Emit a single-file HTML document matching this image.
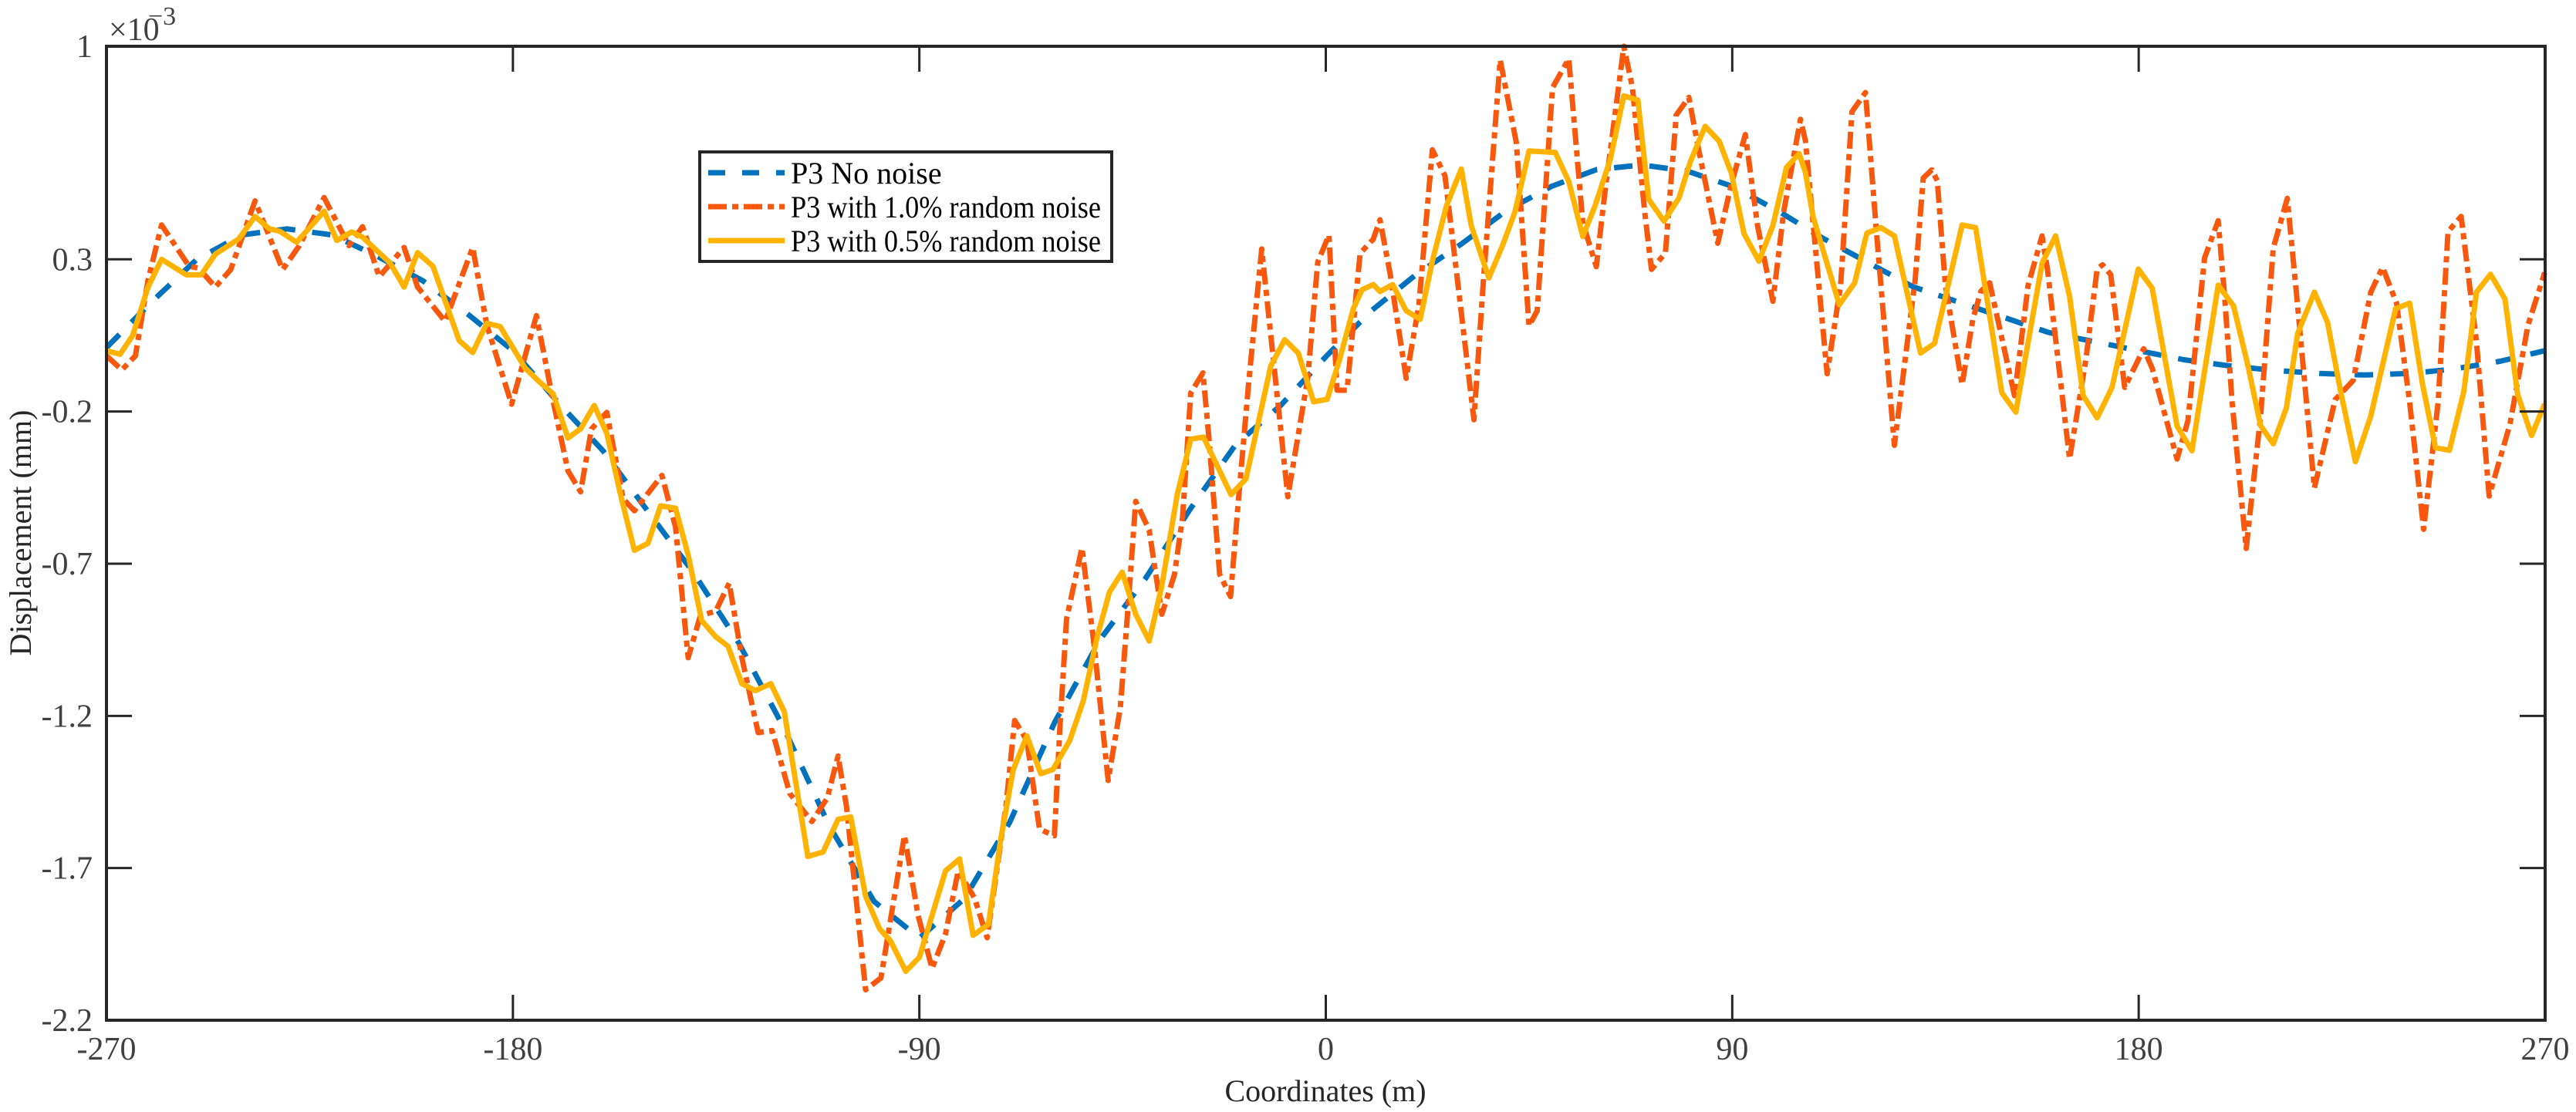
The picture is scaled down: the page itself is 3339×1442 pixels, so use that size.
<!DOCTYPE html>
<html><head><meta charset="utf-8"><style>
html,body{margin:0;padding:0;background:#fff;}
svg{display:block;font-family:"Liberation Serif",serif;}
</style></head><body>
<svg id="chart" width="3339" height="1442" viewBox="0 0 3339 1442" xmlns="http://www.w3.org/2000/svg">
<rect x="0" y="0" width="3339" height="1442" fill="#fff"/>
<g id="series"></g>
<g id="axes"></g>
</svg>
<script>
const xTicks=[-270,-180,-90,0,90,180,270];
const xTickLabels=["-270","-180","-90","0","90","180","270"];
const yTicks=[1,0.3,-0.2,-0.7,-1.2,-1.7,-2.2];
const yTickLabels=["1","0.3","-0.2","-0.7","-1.2","-1.7","-2.2"];
const xNoNoise=[-270,-260,-250,-240,-230,-220,-210,-200,-190,-180,-170,-160,-150,-140,-130,-120,-110,-100,-90,-80,-70,-60,-50,-40,-30,-20,-10,0,10,20,30,40,50,60,70,80,90,100,110,120,130,140,150,160,170,180,190,200,210,220,230,240,250,260,270];
const yNoNoise=[0.01,0.16,0.3,0.38,0.40,0.38,0.31,0.23,0.12,0.0,-0.17,-0.33,-0.53,-0.73,-0.96,-1.24,-1.56,-1.81,-1.93,-1.8,-1.55,-1.22,-0.95,-0.75,-0.52,-0.31,-0.18,-0.02,0.13,0.25,0.35,0.46,0.54,0.595,0.61,0.59,0.54,0.46,0.37,0.29,0.21,0.16,0.11,0.06,0.03,0.0,-0.03,-0.05,-0.065,-0.075,-0.08,-0.075,-0.06,-0.035,0.0];
const x1pct=[-270,-266.6,-263.6,-260.8,-257.8,-251.7,-249.6,-245.9,-242.5,-237.1,-231,-227.3,-221.8,-216.3,-213.3,-209.6,-204.1,-201.1,-195,-188.9,-185.8,-180.3,-174.8,-171.1,-167.8,-165,-162.6,-159.2,-155.6,-153.1,-147,-144,-141.2,-138.5,-135.1,-132.1,-129.3,-125.7,-122.6,-118.7,-113.8,-110.4,-108,-106.1,-101.9,-98.5,-93.3,-90.3,-87.2,-84.2,-81.4,-77.8,-75,-70.8,-68.9,-66.2,-63.4,-60.1,-58.9,-57.4,-54,-51.3,-48.2,-45.5,-43.9,-42.1,-39.1,-36.3,-33.5,-31.7,-29.9,-27.2,-25.9,-23.5,-21.1,-19.5,-17.1,-14.2,-8.4,-4.0,-1.8,0.7,2.5,4.7,7.6,10.5,12,14.2,17.8,20.6,23.6,26.4,28.8,32.8,34.9,38.6,42.2,45,46.8,50.2,53.8,56.9,59.9,61.8,66,67.9,70.6,72.1,75.2,77.6,80.4,82.5,86.8,89.8,92.9,95.6,99,101.4,105.1,106.2,111,114,116.5,119.5,122,125.9,130.5,132.3,134.2,135.4,137.2,140.9,143.3,145.1,147,152.5,155.5,158.6,159.8,164.7,168.3,170.8,172,173.8,176.9,181.1,183,188.5,190.9,194.6,197.6,199,200.7,203.8,207,209.8,212.9,214.9,218.9,223.5,227.5,231.4,234,237.1,240,243.1,246.3,248.5,251.4,254.8,257.6,262.2,266.2,269.9];
const y1pct=[-0.017,-0.063,-0.017,0.232,0.413,0.277,0.271,0.209,0.266,0.492,0.266,0.345,0.503,0.345,0.407,0.243,0.339,0.209,0.096,0.339,0.085,-0.176,0.115,-0.165,-0.395,-0.464,-0.257,-0.203,-0.487,-0.526,-0.41,-0.579,-1.009,-0.871,-0.856,-0.764,-1.009,-1.255,-1.248,-1.455,-1.547,-1.47,-1.332,-1.501,-2.1,-2.061,-1.593,-1.854,-2.03,-1.916,-1.709,-1.798,-1.929,-1.492,-1.215,-1.281,-1.572,-1.594,-1.245,-0.881,-0.648,-0.968,-1.412,-1.172,-0.866,-0.495,-0.59,-0.866,-0.735,-0.546,-0.139,-0.073,-0.284,-0.735,-0.808,-0.517,-0.109,0.334,-0.48,-0.09,0.29,0.38,-0.13,-0.13,0.32,0.366,0.43,0.257,-0.091,0.149,0.66,0.574,0.276,-0.227,0.23,0.955,0.683,0.081,0.131,0.864,0.959,0.42,0.276,0.52,1.0,0.864,0.457,0.267,0.321,0.774,0.832,0.665,0.353,0.547,0.71,0.411,0.162,0.457,0.76,0.69,-0.076,0.214,0.785,0.848,0.377,-0.311,0.232,0.567,0.594,0.558,0.214,-0.112,0.105,0.196,0.223,-0.148,0.214,0.377,0.268,-0.356,-0.03,0.268,0.282,0.25,-0.121,0.006,-0.058,-0.356,-0.23,0.305,0.427,0.183,-0.17,-0.65,-0.215,0.337,0.5,0.192,-0.451,-0.161,-0.098,0.192,0.274,0.156,-0.17,-0.587,-0.17,0.391,0.441,0.029,-0.478,-0.243,0.084,0.256];
const x05pct=[-270,-267,-264.2,-260.8,-257.8,-252.3,-249,-245.9,-240.7,-237.1,-234,-231.6,-227.9,-221.8,-219,-215.7,-213.3,-207.2,-204.1,-201.1,-197.7,-191.9,-188.9,-185.8,-182.8,-177.3,-174.3,-171.1,-167.8,-165,-162,-159.2,-156.2,-153.1,-150.1,-147.3,-144,-141.2,-138.2,-135.1,-132.4,-129.3,-126.3,-122.9,-119.9,-114.7,-111.3,-108,-105.2,-101.9,-98.8,-96.4,-93,-90,-84.2,-81.1,-78.1,-74.7,-72,-69.2,-66.2,-63.1,-60.4,-56.7,-53.7,-50.6,-47.9,-45.1,-42.1,-39.1,-36.3,-32.9,-29.9,-27.1,-21,-17.7,-12.2,-9.1,-6.1,-2.7,0.3,3.05,6.1,8,10.5,12,14.8,17.8,20.9,23.6,26.7,30,32.2,36.1,39.2,41.9,45,50.8,53.8,56.9,59.6,63,66,69.1,71.5,74.9,78.2,80.7,84,87.1,89.8,92.6,95.9,99,102,104.8,106.2,107.9,113.7,117.1,119.8,122.9,125.9,131.7,134.8,140.9,143.9,149.7,152.8,158.6,161.6,164.7,167.7,170.8,174.1,179.9,183,188.5,191.8,197.6,201,204.1,207,209.8,212.7,215.2,218.9,221.8,224.6,228,231.4,236.9,240,242.8,245.7,248.8,252,254.8,257.9,261.1,263.9,267,269.9];
const y05pct=[0,-0.012,0.05,0.209,0.3,0.249,0.249,0.317,0.367,0.441,0.401,0.392,0.356,0.458,0.362,0.39,0.373,0.288,0.209,0.322,0.277,0.033,-0.006,0.09,0.079,-0.057,-0.1,-0.142,-0.287,-0.257,-0.18,-0.272,-0.472,-0.656,-0.633,-0.51,-0.518,-0.671,-0.887,-0.94,-0.971,-1.094,-1.117,-1.094,-1.186,-1.662,-1.647,-1.54,-1.532,-1.793,-1.9,-1.939,-2.039,-1.993,-1.709,-1.67,-1.921,-1.885,-1.608,-1.376,-1.266,-1.39,-1.376,-1.281,-1.15,-0.939,-0.793,-0.728,-0.866,-0.954,-0.772,-0.473,-0.291,-0.284,-0.473,-0.422,-0.051,0.036,-0.008,-0.168,-0.16,-0.029,0.138,0.2,0.217,0.194,0.217,0.131,0.103,0.294,0.475,0.597,0.411,0.239,0.348,0.457,0.656,0.651,0.556,0.375,0.475,0.629,0.837,0.823,0.497,0.425,0.502,0.62,0.737,0.688,0.583,0.384,0.294,0.411,0.602,0.647,0.585,0.44,0.151,0.223,0.386,0.404,0.377,-0.008,0.024,0.413,0.404,-0.139,-0.202,0.287,0.377,0.178,-0.148,-0.221,-0.121,0.268,0.205,-0.248,-0.329,0.215,0.147,-0.043,-0.247,-0.306,-0.188,0.056,0.192,0.093,-0.125,-0.365,-0.215,0.138,0.156,-0.107,-0.319,-0.328,-0.134,0.192,0.251,0.17,-0.143,-0.279,-0.175];

const NS="http://www.w3.org/2000/svg";
const L=138,T=60,R=3299,B=1323;
const xMin=-270,xMax=270,yMin=-2.2,yMax=1;
function sx(v){return L+(v-xMin)/(xMax-xMin)*(R-L);}
function sy(v){return T+(yMax-v)/(yMax-yMin)*(B-T);}
function mk(tag,attrs,parent){const e=document.createElementNS(NS,tag);for(const k in attrs)e.setAttribute(k,attrs[k]);parent.appendChild(e);return e;}
const series=document.getElementById('series');
const axes=document.getElementById('axes');
function drawLine(xs,ys,color,dash,name){
  const pts=xs.map((x,i)=>sx(x).toFixed(1)+','+sy(ys[i]).toFixed(1)).join(' ');
  const p=mk('polyline',{points:pts,fill:'none',stroke:color,'stroke-width':7,'stroke-dasharray':dash,'stroke-linejoin':'round'},series);
  
  
}
drawLine(xNoNoise,yNoNoise,'#0072BD','24 22','line-no-noise');
drawLine(x1pct,y1pct,'#F7580E','22 7 8 7','line-1pct-noise');
drawLine(x05pct,y05pct,'#FFB300','none','line-05pct-noise');

const box=mk('rect',{x:L,y:T,width:R-L,height:B-T,fill:'none',stroke:'#262626','stroke-width':4},axes);


xTicks.forEach((t,i)=>{
  const x=sx(t);
  const tk=mk('path',{d:`M${x},${B}v-33M${x},${T}v33`,stroke:'#262626','stroke-width':3},axes);
  
  
  const lb=mk('text',{x:x,y:1374,'text-anchor':'middle','font-size':42,fill:'#404040'},axes);
  lb.textContent=xTickLabels[i];
  
  
});
yTicks.forEach((t,i)=>{
  const y=sy(t);
  const tk=mk('path',{d:`M${L},${y}h33M${R},${y}h-33`,stroke:'#262626','stroke-width':3},axes);
  
  
  const lb=mk('text',{x:120,y:y+14,'text-anchor':'end','font-size':42,fill:'#404040'},axes);
  lb.textContent=yTickLabels[i];
  
  
});
</script>
<svg style="position:absolute;left:0;top:0" width="3339" height="1442" xmlns="http://www.w3.org/2000/svg" font-family="Liberation Serif, serif">
<g>
<text x="141" y="52" font-size="42" fill="#404040">×10</text>
<text x="192" y="32" font-size="34" fill="#404040">−3</text>
</g>
<text x="1718" y="1428" text-anchor="middle" font-size="40" fill="#262626">Coordinates (m)</text>
<text transform="translate(40,691) rotate(-90)" text-anchor="middle" font-size="40" fill="#262626">Displacement (mm)</text>
<g>
<rect x="907" y="197" width="534" height="142" fill="#fff" stroke="#262626" stroke-width="4"/>
<line x1="918" y1="224" x2="1017" y2="224" stroke="#0072BD" stroke-width="7" stroke-dasharray="22 22"/>
<text x="1025" y="238" font-size="40" fill="#000">P3 No noise</text>
<line x1="918" y1="268" x2="1017" y2="268" stroke="#F7580E" stroke-width="7" stroke-dasharray="24 7 8 7"/>
<text x="1025" y="282" font-size="40" fill="#000" textLength="402" lengthAdjust="spacingAndGlyphs">P3 with 1.0% random noise</text>
<line x1="918" y1="312" x2="1017" y2="312" stroke="#FFB300" stroke-width="7"/>
<text x="1025" y="326" font-size="40" fill="#000" textLength="402" lengthAdjust="spacingAndGlyphs">P3 with 0.5% random noise</text>
</g>
</svg>
</body></html>
